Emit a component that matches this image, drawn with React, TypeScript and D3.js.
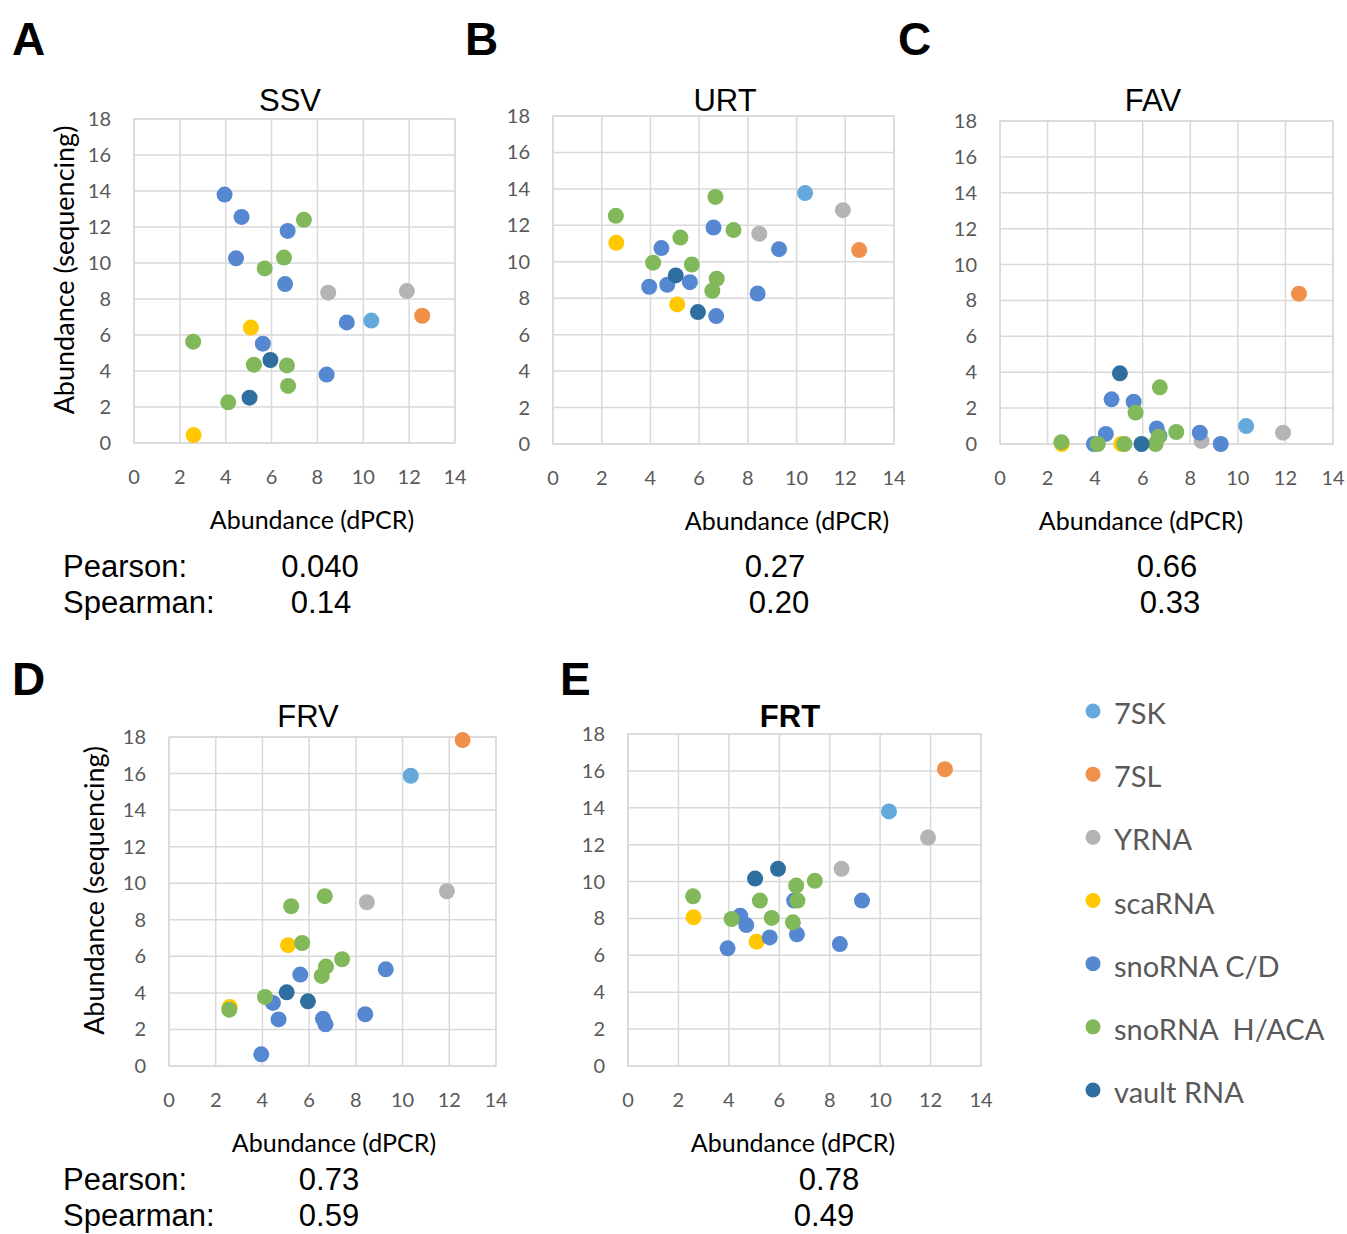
import React from "react";
import * as d3 from "d3";

// RNA classes, in drawing order (later series sit on top)
const categories = ["7SK", "7SL", "YRNA", "scaRNA", "snoRNA C/D", "snoRNA  H/ACA", "vault RNA"];
const categoryColors = ["#65A9DC", "#F0904A", "#B4B4B4", "#FFC800", "#5588D0", "#80B85A", "#2E6FA0"];

// dPCR abundance of each RNA (x values, shared by every tissue)
const dpcr7SK = [10.35];
const dpcr7SL = [12.57];
const dpcrYRNA = [8.47, 11.9];
const dpcrScaRNA = [2.6, 5.1];
const dpcrSnoCD = [3.95, 4.45, 4.69, 5.62, 6.59, 6.7, 8.4, 9.28];
const dpcrSnoHACA = [2.58, 4.11, 5.23, 5.7, 6.54, 6.67, 6.72, 7.41];
const dpcrVault = [5.04, 5.95];
const dpcrByCategory = [dpcr7SK, dpcr7SL, dpcrYRNA, dpcrScaRNA, dpcrSnoCD, dpcrSnoHACA, dpcrVault];

// Sequencing abundance per tissue, listed in category order
const seqSSV = [
  [6.8], [7.07], [8.35, 8.44], [0.44, 6.41],
  [13.8, 10.26, 12.56, 5.52, 8.83, 11.78, 3.8, 6.7],
  [5.63, 2.26, 4.35, 9.7, 10.3, 4.31, 3.17, 12.4],
  [2.52, 4.61],
];
const seqURT = [
  [13.77], [10.64], [11.54, 12.83], [11.04, 7.66],
  [8.63, 10.75, 8.74, 8.88, 11.88, 7.02, 8.26, 10.69],
  [12.52, 9.95, 11.33, 9.85, 8.41, 13.56, 9.07, 11.74],
  [9.25, 7.24],
];
const seqFAV = [
  [1.0], [8.38], [0.17, 0.63], [0, 0],
  [0, 0.56, 2.49, 2.36, 0.87, 0.45, 0.63, 0],
  [0.1, 0, 0, 1.75, 0, 0.41, 3.16, 0.67],
  [3.94, 0],
];
const seqFRV = [
  [15.88], [17.83], [8.96, 9.56], [3.23, 6.61],
  [0.64, 3.45, 2.55, 5.0, 2.59, 2.28, 2.83, 5.29],
  [3.08, 3.78, 8.74, 6.73, 4.93, 9.29, 5.44, 5.84],
  [4.03, 3.54],
];
const seqFRT = [
  [13.8], [16.09], [10.69, 12.39], [8.06, 6.74],
  [6.38, 8.15, 7.64, 6.97, 8.97, 7.14, 6.61, 8.97],
  [9.2, 7.97, 8.97, 8.03, 7.79, 9.78, 8.97, 10.04],
  [10.16, 10.69],
];

const tissues = ["SSV", "URT", "FAV", "FRV", "FRT"];
const panelLetters = ["A", "B", "C", "D", "E"];
const pearsonLabels = ["0.040", "0.27", "0.66", "0.73", "0.78"];
const spearmanLabels = ["0.14", "0.20", "0.33", "0.59", "0.49"];
const xTicks = [0, 2, 4, 6, 8, 10, 12, 14];
const yTicks = [0, 2, 4, 6, 8, 10, 12, 14, 16, 18];
const seqByTissue = [seqSSV, seqURT, seqFAV, seqFRV, seqFRT];

// Panel geometry
const layout = [
  { l: 134, r: 455, t: 119, b: 443, titleX: 290, titleY: 111, letterX: 12, letterY: 55, axisTitleX: 312, yTitleX: 74, bold: false, pX: 320, sX: 321, statsY: 577 },
  { l: 553, r: 894, t: 116, b: 444, titleX: 725, titleY: 111, letterX: 465, letterY: 55, axisTitleX: 787, yTitleX: null, bold: false, pX: 775, sX: 779, statsY: 577 },
  { l: 1000, r: 1333, t: 121, b: 444, titleX: 1153, titleY: 111, letterX: 898, letterY: 55, axisTitleX: 1141, yTitleX: null, bold: false, pX: 1167, sX: 1170, statsY: 577 },
  { l: 169, r: 496, t: 737, b: 1066, titleX: 308, titleY: 727, letterX: 12, letterY: 695, axisTitleX: 334, yTitleX: 104, bold: false, pX: 329, sX: 329, statsY: 1190 },
  { l: 628, r: 981, t: 734, b: 1066, titleX: 790, titleY: 727, letterX: 560, letterY: 695, axisTitleX: 793, yTitleX: null, bold: true, pX: 829, sX: 824, statsY: 1190 },
];

const GRID = "#D9D9D9";
const TICK = "#595959";
const SANS = "'Liberation Sans', Arial, Helvetica, sans-serif";
const CAL = "Lato, 'Open Sans', sans-serif";

function Panel({ idx }: { idx: number }) {
  const g = layout[idx];
  const x = d3.scaleLinear().domain([0, 14]).range([g.l, g.r]);
  const y = d3.scaleLinear().domain([0, 18]).range([g.b, g.t]);
  const seq = seqByTissue[idx];
  return (
    <g>
      <text x={g.letterX} y={g.letterY} fontFamily={SANS} fontWeight="bold" fontSize={46} fill="#000">
        {panelLetters[idx]}
      </text>
      <text x={g.titleX} y={g.titleY} textAnchor="middle" fontFamily={SANS} fontWeight={g.bold ? "bold" : "normal"} fontSize={31} fill="#000">
        {tissues[idx]}
      </text>
      {xTicks.map((v) => (
        <line key={"vx" + v} x1={x(v)} x2={x(v)} y1={g.t} y2={g.b} stroke={GRID} strokeWidth={1.5} />
      ))}
      {yTicks.map((v) => (
        <line key={"hy" + v} x1={g.l} x2={g.r} y1={y(v)} y2={y(v)} stroke={GRID} strokeWidth={1.5} />
      ))}
      <rect x={g.l} y={g.t} width={g.r - g.l} height={g.b - g.t} fill="none" stroke={GRID} strokeWidth={1.5} />
      {xTicks.map((v) => (
        <text key={"xt" + v} x={x(v)} y={g.b + 41} textAnchor="middle" fontFamily={CAL} fontSize={20} fill={TICK}>
          {v}
        </text>
      ))}
      {yTicks.map((v) => (
        <text key={"yt" + v} x={g.l - 23} y={y(v) + 7} textAnchor="end" fontFamily={CAL} fontSize={20} fill={TICK}>
          {v}
        </text>
      ))}
      <text x={g.axisTitleX} y={g.b + 86} textAnchor="middle" fontFamily={CAL} fontSize={25} fill="#000">
        Abundance (dPCR)
      </text>
      {g.yTitleX !== null && (
        <text
          transform={`translate(${g.yTitleX},${(g.t + g.b) / 2 - 11}) rotate(-90)`}
          textAnchor="middle"
          fontFamily={CAL}
          fontSize={27}
          fill="#000"
        >
          Abundance (sequencing)
        </text>
      )}
      {categories.map((c, ci) =>
        dpcrByCategory[ci].map((xv, k) => (
          <circle key={c + k} cx={x(xv)} cy={y(seq[ci][k])} r={8} fill={categoryColors[ci]} />
        ))
      )}
      <text x={g.pX} y={g.statsY} textAnchor="middle" fontFamily={SANS} fontSize={31} fill="#000">
        {pearsonLabels[idx]}
      </text>
      <text x={g.sX} y={g.statsY + 36} textAnchor="middle" fontFamily={SANS} fontSize={31} fill="#000">
        {spearmanLabels[idx]}
      </text>
    </g>
  );
}

export default function App() {
  const legendY = d3.scaleLinear().domain([0, categories.length - 1]).range([711, 1090]);
  return (
    <svg
      width={1347}
      height={1234}
      viewBox="0 0 1347 1234"
      style={{ position: "absolute", left: 0, top: 0, background: "#fff" }}
    >
      <rect width={1347} height={1234} fill="#fff" />
      {tissues.map((_, i) => (
        <Panel key={i} idx={i} />
      ))}
      {[577, 1190].map((yy) => (
        <g key={yy}>
          <text x={63} y={yy} fontFamily={SANS} fontSize={31} fill="#000">Pearson:</text>
          <text x={63} y={yy + 36} fontFamily={SANS} fontSize={31} fill="#000">Spearman:</text>
        </g>
      ))}
      {categories.map((c, i) => (
        <g key={c}>
          <circle cx={1093} cy={legendY(i)} r={7.5} fill={categoryColors[i]} />
          <text x={1114} y={legendY(i) + 13} fontFamily={CAL} fontSize={29} fill={TICK} style={{ whiteSpace: "pre" }}>
            {c}
          </text>
        </g>
      ))}
    </svg>
  );
}
